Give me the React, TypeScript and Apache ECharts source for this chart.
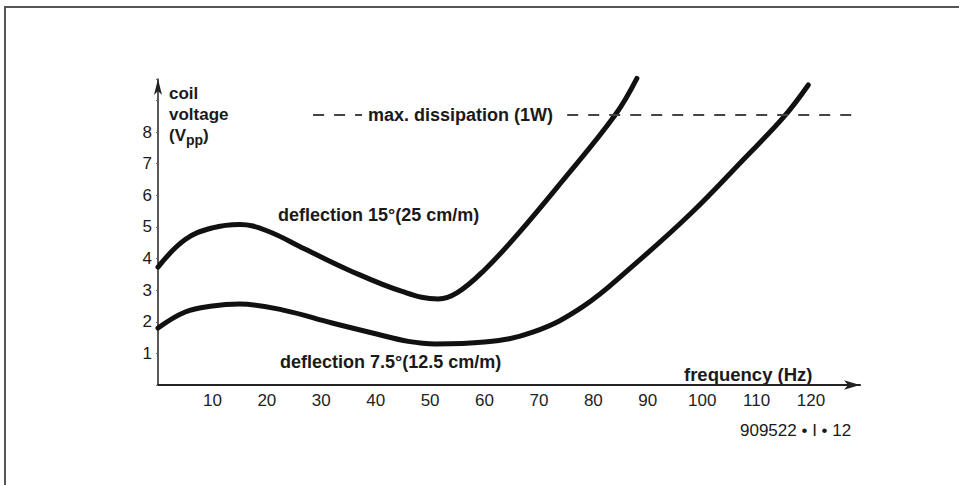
import React, { useEffect, useRef } from "react";
import * as echarts from "echarts";

// frequency (Hz) and coil voltage (Vpp)
const freq15 = [0, 5, 10, 15, 20, 27, 35, 45, 51.5, 55, 60, 66, 74, 84, 88];
const volt15 = [3.73, 4.6, 4.97, 5.08, 4.88, 4.3, 3.64, 2.95, 2.72, 2.92, 3.64, 4.75, 6.39, 8.54, 9.7];

const freq75 = [0, 5, 10, 15, 23, 32, 40, 46, 51, 60, 69, 78, 87, 98, 107.5, 115, 119.5];
const volt75 = [1.8, 2.31, 2.5, 2.56, 2.37, 1.96, 1.62, 1.38, 1.3, 1.36, 1.68, 2.47, 3.73, 5.44, 7.12, 8.48, 9.49];

const xTicks = [10, 20, 30, 40, 50, 60, 70, 80, 90, 100, 110, 120];
const yTicks = [1, 2, 3, 4, 5, 6, 7, 8];

const maxDissipation = 8.54; // Vpp level of 1 W
const dashSeg1 = [28.5, 37.5];
const dashSeg2 = [75.2, 128.7];

const FONT = "'Liberation Sans', Arial, Helvetica, sans-serif";

export default function App() {
  const ref = useRef<HTMLDivElement>(null);
  useEffect(() => {
    if (!ref.current) return;
    const chart = echarts.init(ref.current, undefined, { renderer: "svg" });
    const zip = (xs: number[], ys: number[]) => xs.map((x, i) => [x, ys[i]]);
    const txt = (x: number, y: number, text: string, extra: any = {}) => ({
      type: "text",
      x,
      y,
      style: {
        text,
        fill: "#1a1a1a",
        font: `bold 18px ${FONT}`,
        align: "left",
        verticalAlign: "middle",
        ...extra,
      },
    });
    chart.setOption({
      animation: false,
      backgroundColor: "#ffffff",
      grid: { left: 158, top: 79, right: 99, bottom: 100, containLabel: false },
      xAxis: {
        type: "value",
        min: 0,
        max: 129,
        interval: 10,
        splitLine: { show: false },
        axisTick: { show: false },
        axisLine: {
          show: true,
          lineStyle: { color: "#222", width: 2 },
          symbol: ["none", "arrow"],
          symbolSize: [7, 16],
        },
        axisLabel: {
          margin: 7,
          color: "#222",
          fontSize: 17,
          fontFamily: FONT,
          formatter: (v: number) => (xTicks.includes(v) ? String(v) : ""),
        },
      },
      yAxis: {
        type: "value",
        min: 0,
        max: 9.68,
        interval: 1,
        splitLine: { show: false },
        axisTick: { show: true, length: 2, lineStyle: { color: "#666", width: 1 } },
        axisLine: {
          show: true,
          lineStyle: { color: "#222", width: 1.5 },
          symbol: ["none", "arrow"],
          symbolSize: [6, 16],
        },
        axisLabel: {
          margin: 6,
          color: "#1a1a1a",
          fontSize: 17,
          fontFamily: FONT,
          formatter: (v: number) => (yTicks.includes(v) ? String(v) : ""),
        },
      },
      series: [
        {
          type: "line",
          data: zip(freq15, volt15),
          smooth: 0.4,
          symbol: "none",
          clip: false,
          lineStyle: { color: "#111", width: 5, cap: "round" },
        },
        {
          type: "line",
          data: zip(freq75, volt75),
          smooth: 0.4,
          symbol: "none",
          clip: false,
          lineStyle: { color: "#111", width: 5, cap: "round" },
        },
        {
          type: "line",
          data: [
            [dashSeg1[0], maxDissipation],
            [dashSeg1[1], maxDissipation],
            null,
            [dashSeg2[0], maxDissipation],
            [dashSeg2[1], maxDissipation],
          ],
          connectNulls: false,
          symbol: "none",
          clip: false,
          lineStyle: { color: "#444", width: 2, type: [11, 10] },
        },
      ],
      graphic: [
        {
          type: "rect",
          shape: { x: 5, y: 7, width: 1200, height: 1200 },
          style: { fill: "none", stroke: "#555", lineWidth: 2 },
          silent: true,
        },
        txt(169, 93, "coil", { font: `bold 17px ${FONT}` }),
        txt(169, 114, "voltage", { font: `bold 17px ${FONT}` }),
        {
          type: "text",
          x: 169,
          y: 135,
          style: {
            rich: {
              b: { font: `bold 17px ${FONT}`, fill: "#1a1a1a" },
              s: { font: `bold 14px ${FONT}`, fill: "#1a1a1a", padding: [9, 0, 0, 0] },
            },
            text: "{b|(V}{s|pp}{b|)}",
            align: "left",
            verticalAlign: "middle",
          },
        },
        txt(368, 115, "max. dissipation (1W)"),
        txt(278, 215, "deflection 15°(25 cm/m)"),
        txt(280, 362, "deflection 7.5°(12.5 cm/m)"),
        txt(684, 374, "frequency (Hz)", { font: `bold 18.5px ${FONT}` }),
        txt(740, 430, "909522 • I • 12", { font: `17px ${FONT}` }),
      ],
    });
    return () => chart.dispose();
  }, []);
  return (
    <div
      ref={ref}
      style={{ position: "fixed", left: 0, top: 0, width: 959, height: 485 }}
    />
  );
}
